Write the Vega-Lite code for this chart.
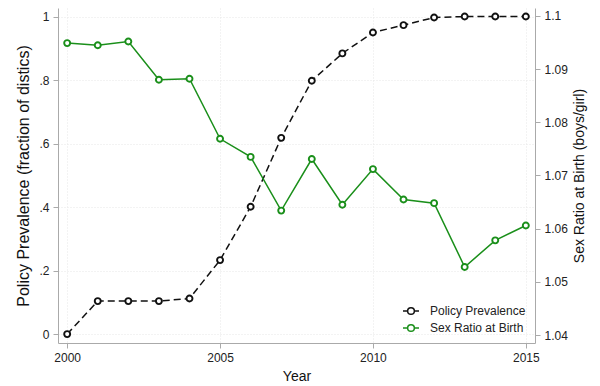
{
  "$schema": "https://vega.github.io/schema/vega-lite/v6.json",
  "width": 477,
  "height": 335,
  "autosize": {"type": "none"},
  "padding": {"left": 58, "top": 8, "right": 65, "bottom": 43},
  "background": "white",
  "config": {
    "view": {"stroke": null},
    "font": "Liberation Sans",
    "axis": {
      "domainColor": "#aaaaaa",
      "tickColor": "#aaaaaa",
      "tickSize": 5,
      "labelColor": "#222222",
      "labelFontSize": 12,
      "labelFont": "Liberation Sans",
      "titleFont": "Liberation Sans",
      "titleFontSize": 14,
      "titleFontWeight": "normal",
      "titleColor": "#111111",
      "gridColor": "#e6e6e6",
      "gridDash": [1, 2],
      "labelPadding": 4
    },
    "legend": {"labelFont": "Liberation Sans"}
  },
  "datasets": {
    "policy": [
      {"year": 2000, "series": "Policy Prevalence", "value": 0},
      {"year": 2001, "series": "Policy Prevalence", "value": 0.104},
      {"year": 2002, "series": "Policy Prevalence", "value": 0.104},
      {"year": 2003, "series": "Policy Prevalence", "value": 0.104},
      {"year": 2004, "series": "Policy Prevalence", "value": 0.112},
      {"year": 2005, "series": "Policy Prevalence", "value": 0.233},
      {"year": 2006, "series": "Policy Prevalence", "value": 0.401},
      {"year": 2007, "series": "Policy Prevalence", "value": 0.618},
      {"year": 2008, "series": "Policy Prevalence", "value": 0.798},
      {"year": 2009, "series": "Policy Prevalence", "value": 0.884},
      {"year": 2010, "series": "Policy Prevalence", "value": 0.95},
      {"year": 2011, "series": "Policy Prevalence", "value": 0.973},
      {"year": 2012, "series": "Policy Prevalence", "value": 0.997},
      {"year": 2013, "series": "Policy Prevalence", "value": 1.0},
      {"year": 2014, "series": "Policy Prevalence", "value": 1.0},
      {"year": 2015, "series": "Policy Prevalence", "value": 1.0}
    ],
    "ratio": [
      {"year": 2000, "series": "Sex Ratio at Birth", "value": 1.0949},
      {"year": 2001, "series": "Sex Ratio at Birth", "value": 1.0945},
      {"year": 2002, "series": "Sex Ratio at Birth", "value": 1.0952},
      {"year": 2003, "series": "Sex Ratio at Birth", "value": 1.0880},
      {"year": 2004, "series": "Sex Ratio at Birth", "value": 1.0882},
      {"year": 2005, "series": "Sex Ratio at Birth", "value": 1.0769},
      {"year": 2006, "series": "Sex Ratio at Birth", "value": 1.0735},
      {"year": 2007, "series": "Sex Ratio at Birth", "value": 1.0634},
      {"year": 2008, "series": "Sex Ratio at Birth", "value": 1.0731},
      {"year": 2009, "series": "Sex Ratio at Birth", "value": 1.0645},
      {"year": 2010, "series": "Sex Ratio at Birth", "value": 1.0712},
      {"year": 2011, "series": "Sex Ratio at Birth", "value": 1.0655},
      {"year": 2012, "series": "Sex Ratio at Birth", "value": 1.0648},
      {"year": 2013, "series": "Sex Ratio at Birth", "value": 1.0528},
      {"year": 2014, "series": "Sex Ratio at Birth", "value": 1.0578},
      {"year": 2015, "series": "Sex Ratio at Birth", "value": 1.0606}
    ]
  },
  "encoding": {
    "x": {
      "field": "year",
      "type": "quantitative",
      "scale": {"domain": [1999.7, 2015.3], "nice": false, "zero": false},
      "axis": {"values": [2000, 2005, 2010, 2015], "format": "d", "title": "Year", "grid": true, "titlePadding": 6}
    },
    "color": {
      "field": "series",
      "type": "nominal",
      "scale": {"domain": ["Policy Prevalence", "Sex Ratio at Birth"], "range": ["#111111", "#1a8f1a"]},
      "legend": {
        "orient": "none",
        "legendX": 344,
        "legendY": 294,
        "title": null,
        "symbolType": "M-1,0L-0.42,0M0.42,0L1,0M0.42,0A0.42,0.42,0,1,1,-0.42,0A0.42,0.42,0,1,1,0.42,0",
        "symbolSize": 256,
        "symbolStrokeWidth": 1.5,
        "symbolFillColor": "transparent",
        "labelFontSize": 12,
        "labelColor": "#222222",
        "labelOffset": 10,
        "rowPadding": 1
      }
    }
  },
  "layer": [
    {
      "data": {"name": "policy"},
      "encoding": {
        "y": {
          "field": "value",
          "type": "quantitative",
          "scale": {"domain": [-0.028, 1.027], "nice": false, "zero": false},
          "axis": {
            "values": [0, 0.2, 0.4, 0.6, 0.8, 1],
            "labelExpr": "datum.value == 0 ? '0' : datum.value == 1 ? '1' : replace(format(datum.value, '.1f'), '0.', '.')",
            "title": "Policy Prevalence (fraction of distics)",
            "titleFontSize": 16,
            "grid": true,
            "titlePadding": 7
          }
        }
      },
      "layer": [
        {"mark": {"type": "line", "strokeWidth": 1.5, "strokeDash": [7, 4]}},
        {"mark": {"type": "point", "filled": false, "fill": "white", "size": 36, "strokeWidth": 1.9, "opacity": 1}}
      ]
    },
    {
      "data": {"name": "ratio"},
      "encoding": {
        "y": {
          "field": "value",
          "type": "quantitative",
          "scale": {"domain": [1.0385, 1.1015], "nice": false, "zero": false},
          "axis": {
            "orient": "right",
            "values": [1.04, 1.05, 1.06, 1.07, 1.08, 1.09, 1.1],
            "format": ".2~f",
            "title": "Sex Ratio at Birth (boys/girl)",
            "titleAngle": -90,
            "titleBaseline": "bottom",
            "grid": false,
            "titlePadding": 19
          }
        }
      },
      "layer": [
        {"mark": {"type": "line", "strokeWidth": 1.5}},
        {"mark": {"type": "point", "filled": false, "fill": "white", "size": 36, "strokeWidth": 1.9, "opacity": 1}}
      ]
    }
  ],
  "resolve": {"scale": {"y": "independent"}}
}
